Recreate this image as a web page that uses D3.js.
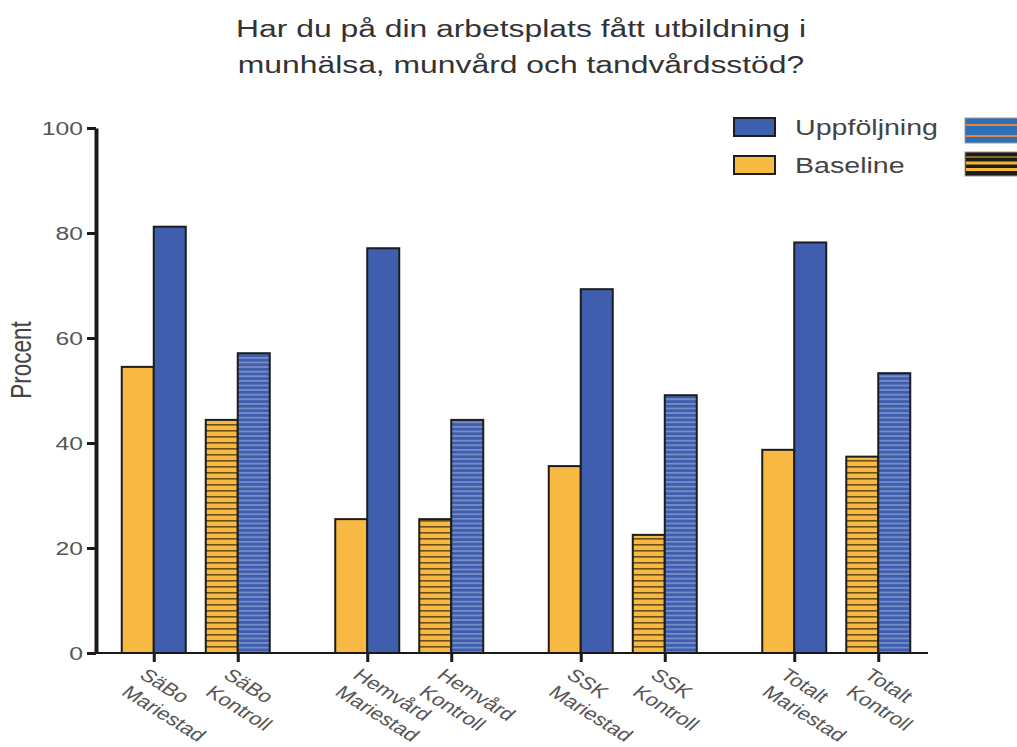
<!DOCTYPE html>
<html>
<head>
<meta charset="utf-8">
<script src="https://cdn.jsdelivr.net/npm/d3@7"></script>
<style>
  body { margin: 0; background: #fff; }
  text { font-family: "Liberation Sans", Arial, sans-serif; }
</style>
</head>
<body>
<div id="chart"></div>
<script>
// data
var groups = ["SäBo", "Hemvård", "SSK", "Totalt"];
var sites = ["Mariestad", "Kontroll"];
var baseline = [54.5, 44.4, 25.5, 25.5, 35.6, 22.5, 38.7, 37.4];
var followUp = [81.2, 57.1, 77.1, 44.4, 69.3, 49.1, 78.2, 53.3];
var yTicks = [0, 20, 40, 60, 80, 100];
var titleLines = ["Har du på din arbetsplats fått utbildning i", "munhälsa, munvård och tandvårdsstöd?"];
var legendItems = ["Uppföljning", "Baseline"];

var width = 1017, height = 747;
var sx = 1.3; // the picture's text is stretched sideways

var yellow = "#f7b942", blue = "#3f5ead";

var rows = [];
groups.forEach(function(g, gi) {
  sites.forEach(function(s, si) {
    var i = gi * 2 + si;
    rows.push({ key: g + "|" + s, group: g, site: s, base: baseline[i], follow: followUp[i] });
  });
});

var svg = d3.select("#chart").append("svg")
    .attr("width", width)
    .attr("height", height);

var defs = svg.append("defs");
// striped fill for the Kontroll bars
var pBase = defs.append("pattern").attr("id", "stripeBase")
    .attr("patternUnits", "userSpaceOnUse").attr("width", 8).attr("height", 6);
pBase.append("rect").attr("width", 8).attr("height", 6).attr("fill", yellow);
pBase.append("rect").attr("y", 4).attr("width", 8).attr("height", 1.6).attr("fill", "#6b4f1c");

var pFollow = defs.append("pattern").attr("id", "stripeFollow")
    .attr("patternUnits", "userSpaceOnUse").attr("width", 8).attr("height", 4.6);
pFollow.append("rect").attr("width", 8).attr("height", 4.6).attr("fill", blue);
pFollow.append("rect").attr("y", 3).attr("width", 8).attr("height", 1.3).attr("fill", "#8d9fd2");

var margin = { left: 96, top: 128, bottom: 653, right: 928 };

var y = d3.scaleLinear().domain([0, 100]).range([margin.bottom, margin.top]);

var gx = d3.scaleBand().domain(groups).range([89, 943]);
var sub = d3.scaleBand().domain(sites).range([-84, 84]);
function center(d) { return gx(d.group) + gx.bandwidth() / 2 + sub(d.site) + sub.bandwidth() / 2; }

var barW = 32;

// bars
var bars = svg.append("g");
bars.selectAll(".base").data(rows).enter().append("rect")
    .attr("x", function(d) { return center(d) - barW; })
    .attr("y", function(d) { return y(d.base); })
    .attr("width", barW)
    .attr("height", function(d) { return y(0) - y(d.base); })
    .attr("fill", function(d) { return d.site === "Kontroll" ? "url(#stripeBase)" : yellow; })
    .attr("stroke", "#1d1d1d").attr("stroke-width", 2);

bars.selectAll(".follow").data(rows).enter().append("rect")
    .attr("x", function(d) { return center(d); })
    .attr("y", function(d) { return y(d.follow); })
    .attr("width", barW)
    .attr("height", function(d) { return y(0) - y(d.follow); })
    .attr("fill", function(d) { return d.site === "Kontroll" ? "url(#stripeFollow)" : blue; })
    .attr("stroke", "#1d1d1d").attr("stroke-width", 2);

// x axis: ticks at the bar pair joints
var xTick = d3.scaleOrdinal().domain(rows.map(function(d) { return d.key; })).range(rows.map(center));
var xAxis = svg.append("g")
    .attr("transform", "translate(0," + margin.bottom + ")")
    .call(d3.axisBottom(xTick).tickSize(9).tickSizeOuter(0));
xAxis.select(".domain").remove();
xAxis.append("line")
    .attr("x1", margin.left).attr("x2", margin.right)
    .attr("stroke", "#1a1a1a").attr("stroke-width", 2);
xAxis.selectAll(".tick line").attr("stroke", "#1a1a1a").attr("stroke-width", 3);
xAxis.selectAll(".tick text")
    .attr("y", null).attr("dy", null)
    .attr("text-anchor", "start")
    .attr("fill", "#555")
    .style("font-size", "17.5px")
    .attr("transform", "translate(-16,24) scale(" + sx + ",1) rotate(39)")
    .each(function(k) {
      var parts = k.split("|");
      var t = d3.select(this).text(null);
      t.append("tspan").attr("x", 0).attr("dy", 0).text(parts[0]);
      t.append("tspan").attr("x", 0).attr("dy", 22).text(parts[1]);
    });

// y axis
var yAxis = svg.append("g")
    .attr("transform", "translate(" + margin.left + ",0)")
    .call(d3.axisLeft(y).tickValues(yTicks).tickSize(9).tickSizeOuter(0));
yAxis.select(".domain").attr("stroke", "#1a1a1a").attr("stroke-width", 4);
yAxis.selectAll(".tick line").attr("stroke", "#1a1a1a").attr("stroke-width", 3);
yAxis.selectAll(".tick text")
    .attr("x", null).attr("dy", "0.36em")
    .attr("fill", "#555")
    .style("font-size", "19px")
    .attr("transform", "translate(-13,0) scale(" + sx + ",1)");

// y label
svg.append("text")
    .attr("transform", "translate(31,360) scale(" + sx + ",1) rotate(-90)")
    .attr("text-anchor", "middle")
    .attr("fill", "#444")
    .style("font-size", "22.5px")
    .text("Procent");

// title
svg.append("g").selectAll("text").data(titleLines).enter().append("text")
    .attr("transform", function(d, i) { return "translate(521," + (37 + i * 36) + ") scale(" + sx + ",1)"; })
    .attr("text-anchor", "middle")
    .attr("fill", "#333")
    .style("font-size", "24.5px")
    .text(function(d) { return d; });

// legend
var legend = svg.append("g").selectAll("g").data(legendItems).enter().append("g")
    .attr("transform", function(d, i) { return "translate(734," + (118 + i * 38) + ")"; });
legend.append("rect")
    .attr("width", 41).attr("height", 18)
    .attr("fill", function(d, i) { return i === 0 ? blue : yellow; })
    .attr("stroke", "#1d1d1d").attr("stroke-width", 2);
legend.append("text")
    .attr("transform", "translate(61,17) scale(" + sx + ",1)")
    .attr("fill", "#444")
    .style("font-size", "22px")
    .text(function(d) { return d; });

// cut-off swatches at the right edge
var swatches = [
  { y: 118, h: 25, bg: "#2d70ba", line: "#e8853a", lines: [[125, 2], [136, 2]] },
  { y: 152, h: 24, bg: "#1c1c1c", line: "#f5b82e", lines: [[157, 1.2], [163, 3], [169.5, 3]] }
];
var sw = svg.append("g").selectAll("g").data(swatches).enter().append("g");
sw.append("rect")
    .attr("x", 965).attr("y", function(d) { return d.y; })
    .attr("width", 60).attr("height", function(d) { return d.h; })
    .attr("fill", function(d) { return d.bg; })
    .attr("stroke", "#999").attr("stroke-width", 1);
sw.each(function(d) {
  d3.select(this).selectAll("line").data(d.lines).enter().append("line")
    .attr("x1", 966).attr("x2", 1017)
    .attr("y1", function(l) { return l[0]; }).attr("y2", function(l) { return l[0]; })
    .attr("stroke", d.line).attr("stroke-width", function(l) { return l[1]; });
});
</script>
</body>
</html>
